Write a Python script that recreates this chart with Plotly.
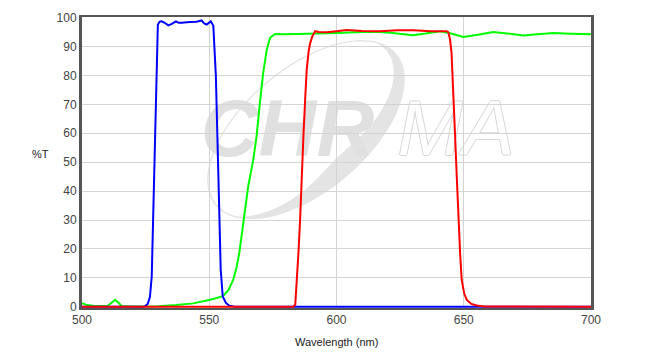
import numpy as np
import plotly.graph_objects as go

# ---------------- data ----------------
green_wl = [500, 502, 505, 510, 511.5, 513, 514.5, 515.5, 520, 530, 537, 543.7, 549, 552,
            555.5, 557.5, 559.4, 560.7, 561.8, 563.4, 565.3, 567.3, 568.6, 569.9, 571.2, 572.6, 573.9,
            575.8, 578, 585, 590, 600, 610, 617, 622, 626, 630, 635, 640.7, 645, 649.8,
            655, 661.6, 667, 673.4, 679, 685.2, 692, 700]
green_T = [1.3, 0.6, 0.3, 0.3, 1.3, 2.4, 1.3, 0.3, 0.1, 0.2, 0.6, 1.2, 2.2, 2.8,
           3.8, 5.8, 9.3, 13.5, 18.6, 30, 41.6, 50.9, 59, 70.5, 80.9, 88.9, 93,
           94.3, 94.2, 94.3, 94.5, 94.7, 95.0, 95.0, 94.7, 94.2, 93.9, 94.5, 95.3, 94.5, 93.3,
           94.0, 95.0, 94.5, 93.8, 94.2, 94.7, 94.4, 94.2]

blue_wl = [500, 524.5, 525.8, 526.7, 527.4, 528.5, 529.3, 529.8, 530.5, 531.3, 532.5, 533.9,
           535.3, 536.9, 538, 539.2, 542.4, 545, 547, 548, 549, 550.6, 551.6, 552.6, 553.6,
           554.5, 555.3, 556.6, 557.9, 560, 700]
blue_T = [0, 0, 1, 3.5, 10.5, 50, 85, 97.5, 98.6, 98.7, 98.2, 97.3,
          97.8, 98.7, 98.2, 98.2, 98.5, 98.6, 99.0, 98.0, 97.6, 98.7, 97.2, 79.7, 45,
          12.8, 3.6, 1.3, 0.4, 0, 0]

red_wl = [500, 583, 583.8, 584.3, 585, 585.7, 586.3, 587, 587.7, 588.3, 589, 589.6, 590.5,
          591.6, 593, 596.1, 600, 604, 610, 617, 624, 630.2, 637, 643.3, 643.9, 644.6,
          645.2, 645.9, 646.6, 647.3, 647.9, 648.6, 649.2, 650.2, 651.2, 653, 655.1, 658, 700]
red_T = [0, 0, 0.8, 7, 18, 30, 45, 59, 72, 82, 88, 91, 93.5,
         95.3, 95.0, 94.9, 95.3, 95.7, 95.4, 95.3, 95.6, 95.6, 95.3, 95.3, 95.0, 92.5,
         87.8, 75, 59, 44, 30, 18, 9.3, 4.5, 2.4, 1.0, 0.5, 0.1, 0]

x_ticks = [500, 550, 600, 650, 700]
y_ticks = [0, 10, 20, 30, 40, 50, 60, 70, 80, 90, 100]

# ---------------- figure ----------------
fig = go.Figure()
fig.add_trace(go.Scatter(x=green_wl, y=green_T, mode="lines",
                         line=dict(color="#00ff00", width=2), showlegend=False))
fig.add_trace(go.Scatter(x=blue_wl, y=blue_T, mode="lines",
                         line=dict(color="#0000ff", width=2), showlegend=False))
fig.add_trace(go.Scatter(x=red_wl, y=red_T, mode="lines",
                         line=dict(color="#ff0000", width=2), showlegend=False))

# ---------------- watermark (decoration) ----------------
def px2data(px, py):
    return 500 + (px - 82) / 2.545, (307 - py) / 2.89

cx, cy, a, b, ang = 306, 130, 118, 62, np.deg2rad(40)
u = np.array([np.cos(ang), -np.sin(ang)])
v = np.array([np.sin(ang), np.cos(ang)])
th = np.linspace(0, 2 * np.pi, 145)
outer = np.array([cx, cy])[:, None] + a * np.cos(th) * u[:, None] + b * np.sin(th) * v[:, None]
thick = 1.5 + 20 * np.clip(np.cos(th - np.deg2rad(70)), 0, None) ** 1.2
rel = outer - np.array([cx, cy])[:, None]
r = np.hypot(rel[0], rel[1])
inner = np.array([cx, cy])[:, None] + rel * (1 - thick / r)
pts_o = [px2data(x, y) for x, y in outer.T]
pts_i = [px2data(x, y) for x, y in inner.T[::-1]]
path = "M " + " L ".join(f"{x:.3f},{y:.3f}" for x, y in pts_o) + " Z M " + \
       " L ".join(f"{x:.3f},{y:.3f}" for x, y in pts_i) + " Z"
fig.add_shape(type="path", path=path, xref="x", yref="y", layer="below",
              fillcolor="#e4e4e4", line=dict(width=0))

x0, y0 = px2data(195, 90)
x1, y1 = px2data(380, 152)
fig.add_shape(type="rect", x0=x0, y0=y0, x1=x1, y1=y1, xref="x", yref="y", layer="below",
              line=dict(width=0), fillcolor="rgba(0,0,0,0)",
              label=dict(text="CHR", textposition="middle center",
                         font=dict(family="Arial", size=80, color="#e0e0e0",
                                   weight="bold", style="italic")))
x0, y0 = px2data(398, 90)
x1, y1 = px2data(514, 152)
fig.add_shape(type="rect", x0=x0, y0=y0, x1=x1, y1=y1, xref="x", yref="y", layer="below",
              line=dict(width=0), fillcolor="rgba(0,0,0,0)",
              label=dict(text="MA", textposition="middle center",
                         font=dict(family="Arial", size=78, color="#ffffff", style="italic",
                                   shadow="1px 0 0 #d6d6d6, -1px 0 0 #d6d6d6, 0 1px 0 #d6d6d6, 0 -1px 0 #d6d6d6")))

tick_font = dict(family="Arial", size=12, color="#444444")
fig.update_layout(
    width=652, height=354,
    margin=dict(l=82, r=61, t=17, b=46),
    paper_bgcolor="white", plot_bgcolor="white",
    xaxis=dict(range=[500, 700], tickvals=x_ticks, ticktext=[str(t) for t in x_ticks],
               showgrid=True, gridcolor="#d4d4d4", gridwidth=1, zeroline=False,
               showline=True, linecolor="#555555", linewidth=2, mirror=True,
               ticks="", tickfont=tick_font),
    yaxis=dict(range=[-0.4, 100.2], tickvals=y_ticks, ticktext=[str(t) for t in y_ticks],
               showgrid=True, gridcolor="#d4d4d4", gridwidth=1, zeroline=False,
               showline=True, linecolor="#555555", linewidth=3, mirror=True,
               ticks="", tickfont=tick_font),
    annotations=[
        dict(text="Wavelength (nm)", xref="paper", yref="paper", x=0.5, y=-0.117,
             xanchor="center", yanchor="middle", showarrow=False,
             font=dict(family="Arial", size=11, color="#222222")),
        dict(text="%T", xref="paper", yref="paper", x=(40 - 82) / 509, y=(307 - 154) / 290,
             xanchor="center", yanchor="middle", showarrow=False,
             font=dict(family="Arial", size=11, color="#222222")),
    ],
)

fig.write_html("out.html")
